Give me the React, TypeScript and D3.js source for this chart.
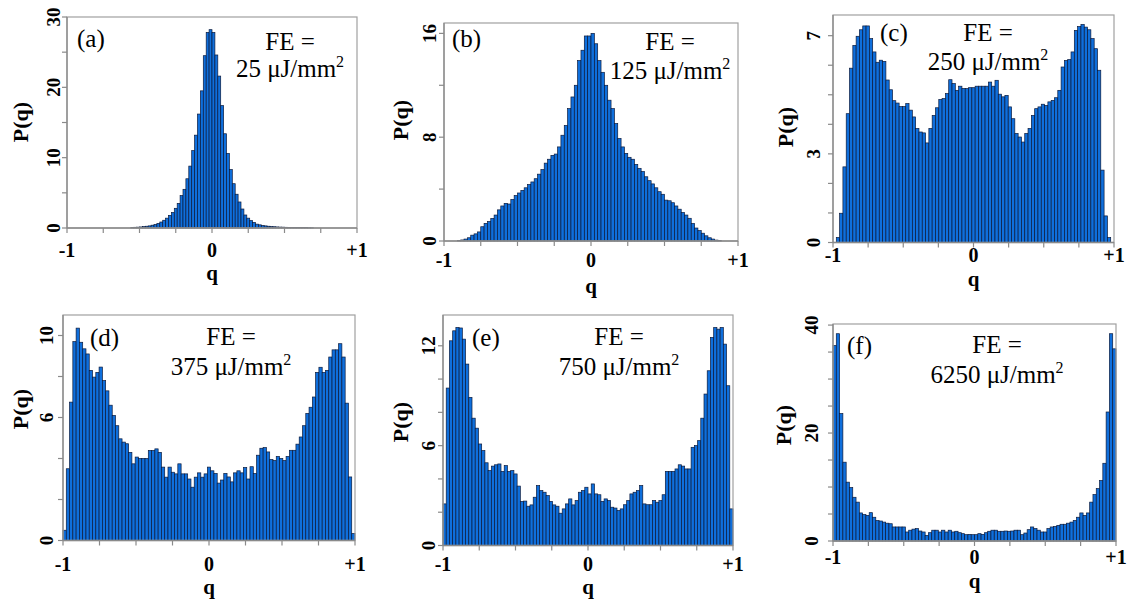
import React from 'react';
import * as d3 from 'd3';

// q axis ticks (shared by all panels)
const qTicks = [-1, -0.75, -0.5, -0.25, 0, 0.25, 0.5, 0.75, 1];
const qLabelValues = [-1, 0, 1];
const qLabelText = ['-1', '0', '+1'];

// histogram heights P(q), bins spread evenly over [-1, +1]
const probA = [
  0, 0, 0, 0, 0, 0, 0, 0, 0, 0, 0, 0, 0, 0, 0, 0, 0, 0, 0, 0, 0, 0,
  0.05, 0.1, 0.12, 0.15, 0.2, 0.25, 0.3, 0.4, 0.5, 0.65, 0.85, 1.1, 1.4, 1.8, 2.2, 2.8, 3.5, 4.6, 5.5, 7.0,
  8.8, 11.0, 13.2, 16.2, 19.5, 24.5, 27.8, 28.2, 27.8, 24.6, 21.6, 17.4, 13.4, 10.6, 8.3, 6.3, 4.8, 3.7,
  2.7, 1.85, 1.4, 1.05, 0.8, 0.55, 0.45, 0.35, 0.3, 0.25, 0.2, 0.18, 0.15, 0.13, 0.12, 0.1, 0.09, 0.08,
  0.07, 0.06, 0.06, 0.05, 0.05, 0.04, 0.03,
  0, 0, 0, 0, 0, 0, 0, 0, 0, 0, 0, 0, 0, 0, 0,
];
const probB = [
  0, 0, 0, 0, 0.03, 0.08, 0.15, 0.25, 0.45, 0.55,
  0.7, 1.1, 1.36, 1.5, 1.74, 2.0, 2.4, 2.7, 2.9, 2.85,
  3.2, 3.5, 3.7, 3.9, 4.1, 4.35, 4.55, 4.8, 5.15, 5.5,
  6.0, 6.3, 6.6, 6.7, 7.25, 8.15, 8.9, 10.2, 11.1, 12.0,
  13.9, 14.7, 15.8, 15.8, 16.0, 15.2, 13.9, 13.0, 12.0, 10.85,
  10.2, 9.05, 7.9, 7.25, 6.75, 6.45, 6.3, 5.9, 5.6, 5.35,
  4.95, 4.65, 4.4, 4.1, 3.8, 3.6, 3.15, 3.1, 2.95, 2.7,
  2.45, 2.2, 2.0, 1.75, 1.35, 1.0, 0.8, 0.6, 0.4, 0.25,
  0.15, 0.07, 0.03, 0, 0, 0, 0, 0,
];
const probC = [
  0, 0.17, 0.99, 2.56, 4.36, 5.9, 6.67, 6.98, 7.2, 7.33,
  7.33, 6.9, 6.45, 6.1, 6.17, 6.13, 5.5, 5.17, 4.8, 4.72,
  4.6, 4.6, 4.7, 4.48, 4.25, 3.86, 3.74, 3.71, 3.37, 3.86,
  4.3, 4.56, 4.84, 4.87, 5.04, 5.51, 5.38, 5.15, 5.29, 5.21,
  5.21, 5.24, 5.24, 5.29, 5.29, 5.29, 5.29, 5.43, 5.29, 5.49,
  5.02, 4.93, 4.98, 4.59, 4.19, 3.69, 3.57, 3.4, 3.69, 3.86,
  4.3, 4.53, 4.59, 4.68, 4.64, 4.76, 4.81, 4.9, 5.15, 5.94,
  6.16, 6.19, 6.45, 7.18, 7.31, 7.38, 7.29, 7.2, 6.9, 6.56,
  5.83, 2.45, 0.9, 0.17, 0,
];
const probD = [
  0.5, 3.5, 6.75, 9.7, 10.36, 9.67, 9.35, 9.1, 8.3, 7.97,
  8.2, 8.46, 7.8, 7.3, 6.6, 6.1, 5.6, 4.96, 4.8, 4.72,
  4.3, 3.74, 4.07, 4.0, 4.0, 4.0, 4.39, 4.39, 4.47, 4.3,
  3.58, 3.09, 3.58, 3.33, 3.25, 3.74, 3.25, 3.25, 3.0, 2.6,
  3.09, 3.3, 3.09, 3.25, 3.58, 3.4, 3.27, 2.8, 2.95, 3.27,
  3.1, 2.86, 3.3, 3.4, 3.3, 3.56, 3.0, 3.6, 3.27, 4.16,
  4.5, 4.53, 4.32, 3.95, 3.9, 4.1, 4.0, 3.9, 4.1, 4.4,
  4.4, 4.7, 5.05, 5.6, 6.2, 6.5, 7.0, 8.2, 8.45, 8.2,
  8.3, 8.95, 9.3, 9.3, 9.6, 8.95, 6.7, 3.1, 0.34,
];
const probE = [
  2.5, 9.46, 12.3, 12.9, 13.1, 13.07, 12.4, 10.9, 8.9, 7.65,
  7.05, 6.1, 5.7, 4.97, 4.5, 4.77, 4.85, 4.9, 4.45, 4.8,
  4.45, 4.5, 4.3, 3.57, 2.65, 2.67, 2.36, 2.44, 2.9, 3.6,
  3.3, 3.2, 3.0, 2.65, 2.44, 2.36, 1.94, 2.2, 2.5, 2.8,
  2.44, 2.7, 3.2, 3.3, 3.5, 3.1,
  3.7, 3.1, 3.05, 2.65, 2.8, 2.7, 2.3, 2.25, 2.1, 2.2,
  2.45, 2.7, 3.1, 3.2, 3.3, 3.6, 2.5, 2.45, 2.45, 2.7,
  2.6, 2.7, 3.05, 4.45, 4.45, 4.45, 4.6, 4.85, 4.77, 4.6,
  4.6, 5.9, 6.0, 6.3, 7.65, 9.1, 10.5, 12.5, 13.1, 13.0,
  13.1, 12.1, 9.6, 2.2,
];
const probF = [
  36.2, 38.4, 23.6, 14.6, 10.9, 9.9, 8.1, 7.2, 5.2, 4.9,
  4.75, 5.25, 4.4, 3.8, 3.7, 3.5, 3.3, 3.2, 2.6, 2.6,
  2.6, 2.6, 1.67, 2.0, 2.2, 2.3, 1.85, 1.67, 1.05, 1.54,
  2.0, 2.0, 1.67, 2.0, 1.67, 2.0, 1.67, 1.8, 1.54, 1.36,
  1.17, 1.23, 1.17, 1.17, 1.36, 1.23, 1.54, 1.8, 2.0, 2.0,
  1.8, 1.8, 1.85, 1.8, 1.85, 2.0, 2.0, 1.17, 1.48, 2.1,
  2.6, 2.3, 2.0, 1.67, 1.67, 2.3, 2.6, 2.7, 2.9, 3.1,
  3.1, 3.3, 3.5, 3.8, 4.4, 5.2, 4.75, 5.2, 7.2, 8.6,
  9.7, 11.2, 14.4, 23.9, 38.4, 35.6,
];

// y ticks / labelled ticks per panel
const yTicksA = [0, 5, 10, 15, 20, 25, 30];
const yLabelsA = [0, 10, 20, 30];
const yTicksB = [0, 4, 8, 12, 16];
const yLabelsB = [0, 8, 16];
const yTicksC = [0, 1, 2, 3, 4, 5, 6, 7];
const yLabelsC = [0, 3, 7];
const yTicksD = [0, 2, 4, 6, 8, 10];
const yLabelsD = [0, 6, 10];
const yTicksE = [0, 2, 4, 6, 8, 10, 12];
const yLabelsE = [0, 6, 12];
const yTicksF = [0, 5, 10, 15, 20, 25, 30, 35, 40];
const yLabelsF = [0, 20, 40];

const tags = ['(a)', '(b)', '(c)', '(d)', '(e)', '(f)'];
const fluences = ['25', '125', '250', '375', '750', '6250'];

const FONT = '"Liberation Serif", "Times New Roman", serif';
const BAR_FILL = '#0f6fdc';
const BAR_EDGE = '#0b1a3c';
const AXIS = '#8a8a8a';

// layout of each panel (pixels)
const panels = [
  { values: probA, yTicks: yTicksA, yLabels: yLabelsA, yMax: 30, left: 67, right: 357, top: 17, bottom: 228,
    tickOff: 7, pqX: 28, pqY: 122, xLabBase: 257, qBase: 280, tagX: 77, tagY: 47, feX: 290, feY: 50, feY2: 77 },
  { values: probB, yTicks: yTicksB, yLabels: yLabelsB, yMax: 16.8, left: 444, right: 738, top: 23, bottom: 241,
    tickOff: 8, pqX: 408, pqY: 120, xLabBase: 267, qBase: 293, tagX: 452, tagY: 47, feX: 670, feY: 50, feY2: 79 },
  { values: probC, yTicks: yTicksC, yLabels: yLabelsC, yMax: 7.7, left: 833, right: 1114, top: 15, bottom: 242.5,
    tickOff: 13, pqX: 793, pqY: 127, xLabBase: 262, qBase: 286, tagX: 880, tagY: 41, feX: 988, feY: 41, feY2: 70 },
  { values: probD, yTicks: yTicksD, yLabels: yLabelsD, yMax: 11.0, left: 63, right: 355, top: 315, bottom: 540.5,
    tickOff: 10, pqX: 28, pqY: 409, xLabBase: 571, qBase: 594, tagX: 90, tagY: 346, feX: 231, feY: 345, feY2: 375 },
  { values: probE, yTicks: yTicksE, yLabels: yLabelsE, yMax: 13.85, left: 443, right: 733, top: 315, bottom: 545.5,
    tickOff: 8, pqX: 408, pqY: 422, xLabBase: 571, qBase: 594, tagX: 472, tagY: 346, feX: 619, feY: 345, feY2: 375 },
  { values: probF, yTicks: yTicksF, yLabels: yLabelsF, yMax: 40.2, left: 833, right: 1116, top: 324, bottom: 541,
    tickOff: 15, pqX: 791, pqY: 425, xLabBase: 564, qBase: 588, tagX: 847, tagY: 354, feX: 997, feY: 353, feY2: 383 },
];

const Panel = ({ p, tag, fe }: { p: any; tag: string; fe: string }) => {
  const x = d3.scaleLinear().domain([-1, 1]).range([p.left, p.right]);
  const y = d3.scaleLinear().domain([0, p.yMax]).range([p.bottom, p.top]);
  const bw = 2 / p.values.length;

  return (
    <g fontFamily={FONT}>
      {/* bars */}
      {p.values.map((v: number, i: number) => {
        if (v <= 0) return null;
        const x0 = x(-1 + i * bw);
        const x1 = x(-1 + (i + 1) * bw);
        return (
          <rect key={i} x={x0} y={y(v)} width={x1 - x0} height={y(0) - y(v)}
            fill={BAR_FILL} stroke={BAR_EDGE} strokeWidth={0.7} />
        );
      })}

      {/* frame */}
      <rect x={p.left} y={p.top} width={p.right - p.left} height={p.bottom - p.top}
        fill="none" stroke="#a0a0a0" strokeWidth={1.2} />
      <line x1={p.left} x2={p.left} y1={p.top} y2={p.bottom} stroke={AXIS} strokeWidth={1.3} />
      <line x1={p.left} x2={p.right} y1={p.bottom} y2={p.bottom} stroke={AXIS} strokeWidth={1.3} />

      {/* x ticks */}
      {qTicks.map(t => (
        <line key={'xt' + t} x1={x(t)} x2={x(t)} y1={p.bottom} y2={p.bottom + 5} stroke={AXIS} strokeWidth={1.2} />
      ))}
      {qLabelValues.map((t, i) => (
        <text key={'xl' + t} x={x(t)} y={p.xLabBase} textAnchor="middle" fontSize={20} fontWeight="bold"
          fontFamily={FONT}>
          {qLabelText[i]}
        </text>
      ))}
      <text x={(p.left + p.right) / 2} y={p.qBase} textAnchor="middle" fontSize={21} fontWeight="bold"
        fontFamily={FONT}>q</text>

      {/* y ticks */}
      {p.yTicks.map((t: number) => (
        <line key={'yt' + t} x1={p.left - 5} x2={p.left} y1={y(t)} y2={y(t)} stroke={AXIS} strokeWidth={1.2} />
      ))}
      {p.yLabels.map((t: number) => (
        <text key={'yl' + t} transform={`translate(${p.left - p.tickOff},${y(t)}) rotate(-90)`}
          textAnchor="middle" fontSize={19} fontWeight="bold" fontFamily={FONT}>
          {t}
        </text>
      ))}
      <text transform={`translate(${p.pqX},${p.pqY}) rotate(-90)`} textAnchor="middle" fontSize={22}
        fontWeight="bold" fontFamily={FONT}>
        P(q)
      </text>

      {/* annotations */}
      <text x={p.tagX} y={p.tagY} fontSize={25} fontFamily={FONT}>{tag}</text>
      <text x={p.feX} y={p.feY} textAnchor="middle" fontSize={25} fontFamily={FONT}>FE =</text>
      <text x={p.feX} y={p.feY2} textAnchor="middle" fontSize={25} fontFamily={FONT}>
        {fe} {'\u03bc'}J/mm<tspan dy={-10} fontSize={16}>2</tspan>
      </text>
    </g>
  );
};

export default function App() {
  return (
    <svg width={1130} height={603} fontFamily={FONT}
      style={{ position: 'absolute', left: 0, top: 0, background: '#fff' }}>
      {panels.map((p, i) => (
        <Panel key={tags[i]} p={p} tag={tags[i]} fe={fluences[i]} />
      ))}
    </svg>
  );
}
